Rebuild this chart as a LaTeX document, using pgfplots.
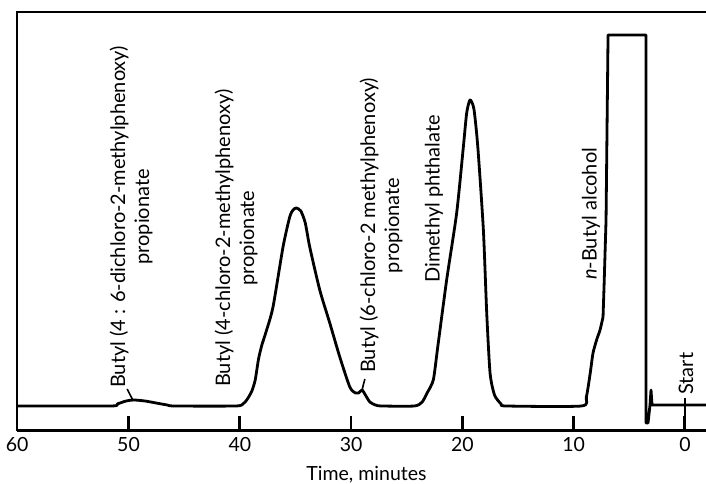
\documentclass[border=0pt]{standalone}
\usepackage{fontspec}
\setmainfont{Lato}
\usepackage{pgfplots}
\pgfplotsset{compat=1.18}

\newcommand{\lbl}{\fontsize{20bp}{24bp}\selectfont}
\newcommand{\tcklbl}{\fontsize{19.5bp}{22bp}\selectfont}
% one minute is 11.131bp along the time axis
\newcommand{\tstep}{\hspace{111.31bp}}

\begin{document}
\begin{tikzpicture}[font=\lbl]
\begin{axis}[
    name=ax,
    scale only axis,
    width=689bp, height=419bp,
    xmin=-1.9, xmax=60, ymin=0, ymax=419,
    x dir=reverse,
    axis x line=none, axis y line=none,
    xtick={0,10,20,30,40,50,60},
    ytick=\empty,
    xticklabel style={font=\tcklbl, yshift=-5bp},
    /pgf/number format/assume math mode=true,
    clip=false,
]
% chromatogram trace, peaks
\addplot[black, line width=2.8bp, smooth, tension=0.4, line join=round] coordinates {
    (60,25) (51.6,25) (51.0,27) (50.2,30) (49.5,31) (48.5,30) (47.5,28)
    (46.5,26) (45.8,25) (40.4,25) (39.7,27) (39.3,32) (38.9,40) (38.6,51)
    (38.3,72) (38.0,86) (37.6,100) (37.0,124) (36.1,184) (35.5,214) (35.2,221)
    (34.9,223) (34.5,220) (34.1,208) (33.7,184) (32.8,141) (31.9,108)
    (31.0,74) (30.1,44) (29.6,38) (29.3,38) (29.0,41) (28.7,36) (28.3,29)
    (27.8,26) (27.2,25) (24.3,25) (23.6,29) (23.16,38) (22.6,51) (22.2,84)
    (21.4,151) (20.5,218) (19.9,284) (19.6,318) (19.3,331) (18.95,322)
    (18.6,284) (18.1,201) (17.8,118) (17.5,58) (17.1,36) (16.5,27) (16.0,25)
    (9.3,25) (8.85,34) (8.5,58) (8.25,78) (7.9,92) (7.62,101) (7.35,114)
};
% trace, n-butyl alcohol block and start
\addplot[black, line width=2.8bp, line join=round] coordinates {
    (7.35,114) (7.26,144) (7.08,211) (6.90,396) (3.49,396) (3.49,8)
    (3.31,8) (3.13,26) (3.04,41) (2.95,26) (-1.9,26)
};
% start marker
\addplot[black, line width=2bp] coordinates {(0,11) (0,33)};
% label leaders
\addplot[black, line width=1.6bp] coordinates {(49.6,31) (50.1,42)};
\addplot[black, line width=1.6bp] coordinates {(29.0,41) (28.75,52)};
% time axis line and tick marks
\addplot[black, line width=2.8bp] coordinates {(60,0.5) (-1.9,0.5)};
\addplot[black, line width=2.8bp] coordinates {(50,0.5) (50,15)};
\addplot[black, line width=2.8bp] coordinates {(40,0.5) (40,15)};
\addplot[black, line width=2.8bp] coordinates {(30,0.5) (30,15)};
\addplot[black, line width=2.8bp] coordinates {(20,0.5) (20,15)};
\addplot[black, line width=2.8bp] coordinates {(10,0.5) (10,15)};
\addplot[black, line width=2.8bp] coordinates {(0,0.5) (0,15)};

\node[rotate=90, anchor=west, inner sep=0pt, align=center] at (axis cs:49.76,43)
    {Butyl (4 : 6-dichloro-2-methylphenoxy)\\propionate};
\node[rotate=90, anchor=west, inner sep=0pt, align=center] at (axis cs:40.32,44)
    {Butyl (4-chloro-2-methylphenoxy)\\propionate};
\node[rotate=90, anchor=west, inner sep=0pt, align=center] at (axis cs:27.3,58)
    {Butyl (6-chloro-2 methylphenoxy)\\propionate};
\node[rotate=90, anchor=west, inner sep=0pt] at (axis cs:22.53,148)
    {Dimethyl phthalate};
\node[rotate=90, anchor=west, inner sep=0pt] at (axis cs:8.43,151)
    {\textit{n}-Butyl alcohol};
\node[rotate=90, anchor=west, inner sep=0pt] at (axis cs:-0.1,36)
    {Start};
\end{axis}
% frame: top and left edges
\draw[black, line width=2.5bp] (ax.north east) -- (ax.north west) -- (ax.south west);
% time axis numbers, one row, 60 at the left edge
\node[font=\tcklbl, anchor=north west, inner sep=0pt] at ([yshift=-6bp]ax.south west)
    {\makebox[0pt]{60}\tstep\makebox[0pt]{50}\tstep\makebox[0pt]{40}\tstep
     \makebox[0pt]{30}\tstep\makebox[0pt]{20}\tstep\makebox[0pt]{10}\tstep
     \makebox[0pt]{0}};
\node[font=\tcklbl] at ([xshift=5bp, yshift=-44bp]ax.south) {Time, minutes};
\pgfresetboundingbox
\path ([xshift=-17bp,yshift=-53bp]ax.south west) rectangle ([yshift=12bp]ax.north east);
\end{tikzpicture}
\end{document}
